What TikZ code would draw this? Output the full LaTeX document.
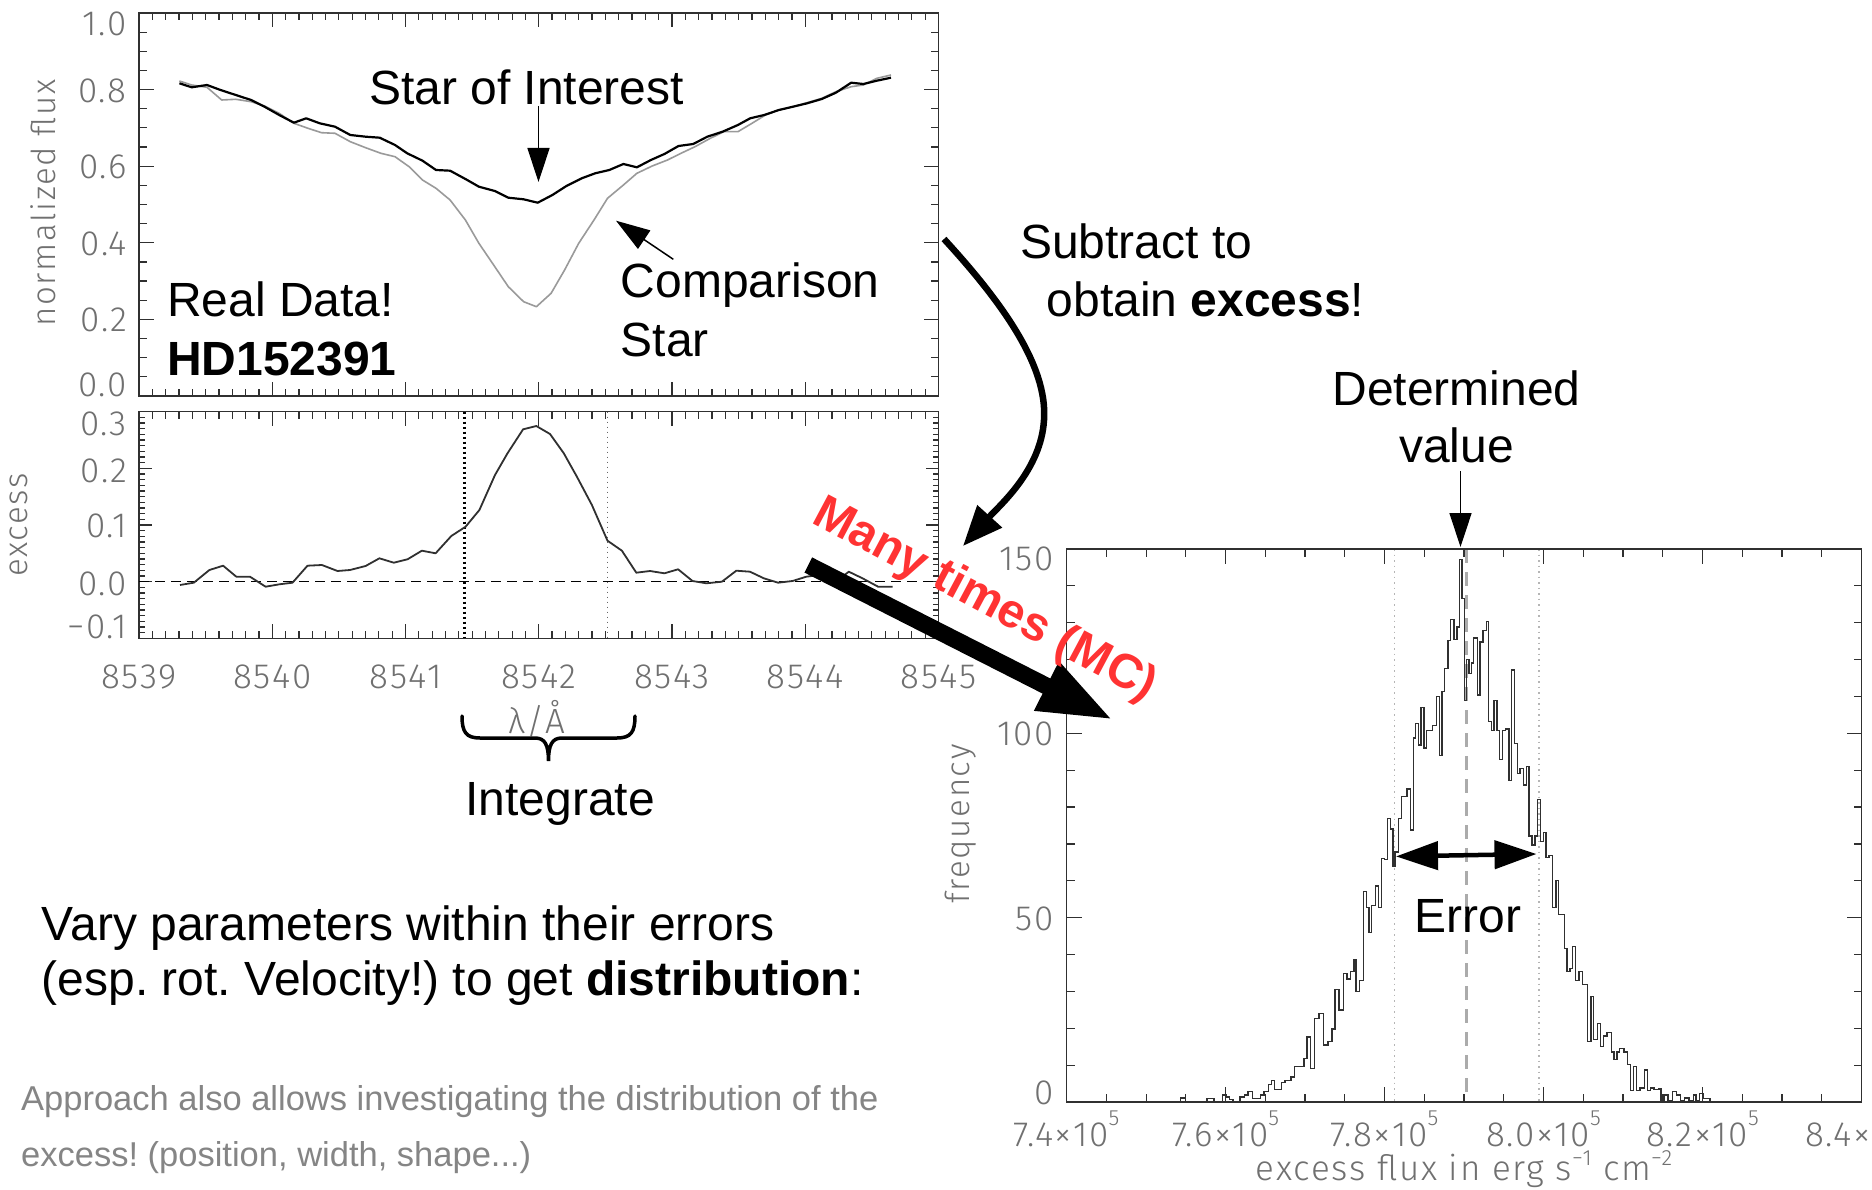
\documentclass[tikz,border=0pt]{standalone}
\usepackage{fontspec}
\setmainfont{Liberation Sans}
\newfontfamily\axisfont{Fira Sans Light}[LetterSpace=5]
\usetikzlibrary{arrows.meta}

\definecolor{axgray}{HTML}{707070}
\definecolor{axline}{HTML}{303030}
\definecolor{compgray}{HTML}{9A9A9A}
\definecolor{mcred}{HTML}{FF3333}
\definecolor{notegray}{HTML}{858585}
\definecolor{meangray}{HTML}{ABABAB}
\definecolor{sigmagray}{HTML}{B5B5B5}

\newcommand\labelsize{\fontsize{48}{56}\selectfont}
\newcommand\notesize{\fontsize{34.5}{40}\selectfont}
\newcommand\ticksize{\axisfont\fontsize{35}{35}\selectfont}
\newcommand\titlesize{\axisfont\fontsize{33}{33}\selectfont}
\newcommand\expo[1]{\raisebox{0.62em}{\fontsize{22}{22}\selectfont #1}}
\newcommand\unitexpo[1]{\raisebox{0.42em}{\fontsize{22}{22}\selectfont #1}}

\begin{document}
\frenchspacing
\begin{tikzpicture}[x=1pt,y=-1pt,
  lbl/.style={font=\labelsize, inner sep=0pt},
  note/.style={font=\notesize, text=notegray, inner sep=0pt},
  ticklbl/.style={font=\ticksize, text=axgray, inner sep=0pt},
  axtitle/.style={font=\titlesize, text=axgray, inner sep=0pt},
  plotframe/.style={draw=axline, line width=1.5pt},
  tk/.style={draw=axline, line width=1.2pt},
  pointer/.style={line width=1.5pt, -{Triangle[length=34pt,width=22pt]}},
]
\useasboundingbox[fill=white] (0,0) rectangle (1872,1190);

% ===== normalized flux panel =====
\draw[plotframe] (139,13) rectangle (938.5,396);
\foreach \i in {1,...,19} {
  \draw[tk] (139,{396-\i*19.15}) -- ++(8,0);
  \draw[tk] (938.5,{396-\i*19.15}) -- ++(-8,0);
}
\foreach \i in {1,...,4} {
  \draw[tk] (139,{396-\i*76.6}) -- ++(15,0);
  \draw[tk] (938.5,{396-\i*76.6}) -- ++(-15,0);
}
\foreach \i in {1,...,59} {
  \draw[tk] ({139+\i*13.325},396) -- ++(0,-7);
  \draw[tk] ({139+\i*13.325},13) -- ++(0,7);
}
\foreach \i in {1,...,5} {
  \draw[tk] ({139+\i*133.25},396) -- ++(0,-14);
  \draw[tk] ({139+\i*133.25},13) -- ++(0,14);
}
\foreach \v/\y [count=\k] in {1.0/24, 0.8/90.7, 0.6/167, 0.4/243.6, 0.2/320, 0.0/384.5}
  \node[ticklbl, anchor=east] (fl\k) at (127,\y) {\v};
\node[axtitle, rotate=90] (fluxlabel) at (43,203) {normalized flux};

% comparison star
\draw[compgray, line width=1.6pt, line join=round] plot coordinates {
(179.4,81) (191.7,85) (207.0,87.3) (221.7,100) (235.8,99.3) (251.1,101.7) (264.5,106)
(279.2,113.3) (293.9,123.3) (308.0,128.3) (321.5,132.7) (335.0,133.3) (350.3,141.7)
(365.6,147.7) (380.9,153.3) (395.0,156.7) (409.1,166.7) (422.5,180) (436.0,188.3)
(450.1,200) (465.4,220) (478.9,243.3) (494.8,266.7) (508.3,286.7) (523.6,301.7)
(536.4,306.7) (551.1,293.3) (564.6,270) (578.7,243.3) (594.0,220) (607.5,198.3)
(623.4,185) (636.9,173.3) (652.2,166) (667.5,160) (681.0,153.3) (695.0,146.7)
(710.3,138.3) (723.8,131.7) (737.9,131.7) (752.0,123.3) (765.5,115) (778.9,110)
(793.0,106.7) (807.1,102.7) (821.8,98.3) (835.9,91.7) (851.2,86.7) (863.4,85)
(876.9,78.3) (891.0,75)};
% star of interest
\draw[black, line width=2.2pt, line join=round] plot coordinates {
(179.4,83.3) (191.7,87.3) (207.0,85) (220.5,90) (235.8,95) (251.1,100) (264.5,106.7)
(279.2,115) (293.9,122.7) (306.2,118.3) (319.7,123.3) (335.0,126.7) (350.3,135)
(365.6,136.7) (379.7,137.7) (395.0,145) (407.2,153.3) (422.5,160.7) (436.0,170)
(450.1,170.7) (465.4,179) (478.9,186.7) (494.8,191) (508.3,197.7) (523.6,199.3)
(537.7,202.7) (552.4,195) (566.4,186) (581.7,178.3) (595.2,173.3) (609.3,170)
(623.4,164) (636.9,167.3) (650.9,160) (664.4,154) (678.5,146) (693.2,144)
(707.3,136.7) (722.6,131.7) (737.9,125) (750.2,118.3) (764.2,115) (778.9,110)
(793.0,106.7) (807.1,103.3) (821.8,99) (835.9,92.7) (851.2,82.7) (863.4,84)
(876.9,80.7) (891.0,77.7)};

\node[lbl, anchor=base] (soi) at (526.6,104.3) {Star of Interest};
\coordinate (soiTip) at (538.5,182);
\draw[pointer] (538.5,106) coordinate (soiTail) -- (soiTip);
\node[lbl, anchor=base west] (comp1) at (620.7,297.3) {Comparison};
\node[lbl, anchor=base west] (comp2) at (620.7,356.7) {Star};
\coordinate (compTail) at (673.3,259.3);
\coordinate (compTip) at (616,220.7);
\draw[pointer] (compTail) -- (compTip);
\node[lbl, anchor=base west] (real) at (167,316.7) {Real Data!};
\node[lbl, anchor=base west, font=\labelsize\bfseries] (hd) at (167,376) {HD152391};

% ===== excess panel =====
\draw[plotframe] (139,411.7) rectangle (938.5,638.4);
\foreach \i in {1,...,39} {
  \draw[tk] (139,{638.4-\i*5.667}) -- ++(6,0);
  \draw[tk] (938.5,{638.4-\i*5.667}) -- ++(-6,0);
}
\foreach \i in {1,2,3} {
  \draw[tk] (139,{638.4-\i*56.67}) -- ++(13,0);
  \draw[tk] (938.5,{638.4-\i*56.67}) -- ++(-13,0);
}
\foreach \i in {1,...,59} {
  \draw[tk] ({139+\i*13.325},638.4) -- ++(0,-7);
  \draw[tk] ({139+\i*13.325},411.7) -- ++(0,7);
}
\foreach \i in {1,...,5} {
  \draw[tk] ({139+\i*133.25},638.4) -- ++(0,-14);
  \draw[tk] ({139+\i*133.25},411.7) -- ++(0,14);
}
\foreach \v/\y [count=\k] in {0.3/424, 0.2/470.4, 0.1/525.4, 0.0/584, {−0.1}/627}
  \node[ticklbl, anchor=east] (ex\k) at (127,\y) {\v};
\foreach \v [count=\k from 0] in {8539,8540,8541,8542,8543,8544,8545}
  \node[ticklbl] (wl\k) at ({139+\k*133.25},677) {\v};
\node[axtitle, rotate=90] (exlabel) at (19,525) {excess};

\draw[black, line width=1.5pt, dash pattern=on 10pt off 6pt] (139,581.7) -- (938.5,581.7);
\draw[black, line width=2.2pt, dash pattern=on 2pt off 3pt] (464.4,411.7) -- (464.4,638.4);
\draw[black!60, line width=1.2pt, dash pattern=on 1.5pt off 3.5pt] (607.5,411.7) -- (607.5,638.4);
\draw[axline, line width=1.8pt, line join=round] plot coordinates {
(180,585) (193.8,582.7) (209.4,570) (223.1,565.7) (236.3,576.7) (250,576.7)
(265.6,586.7) (279.4,584.3) (292.5,582.7) (307.5,565.7) (321.9,565) (337.5,571)
(350,570) (365.6,566) (379.4,558.3) (393.8,562.7) (407.5,559.3) (421.9,550.7)
(435.6,553.3) (451.3,536) (465.6,526.7) (479.4,510) (495,475) (507.5,453.3)
(523.1,429.3) (536.3,426) (550,434) (563.8,453.3) (576.9,476.7) (591.9,505)
(607.5,540.7) (621.9,550.7) (636.3,572.7) (650,571) (664.4,573.3) (678.1,569.3)
(692.5,581) (706.3,583.3) (721.9,581.7) (736.3,570.7) (750,571.7) (763.8,578.3)
(778.1,582.7) (792.5,581) (806.3,576.7) (820,575) (834.4,582.7) (848.8,571.7)
(862.5,578.3) (878.1,586.7) (892.5,586.7)};

\node[ticklbl] (lam) at (537,719) {λ/Å};
\draw[line width=3.5pt, line cap=round] (462,716) .. controls (462,732) and (466,738) .. (480,738)
  -- (535,738) .. controls (545,738) and (548.5,745) .. (548.5,761)
  .. controls (548.5,745) and (552,738) .. (562,738) -- (617,738)
  .. controls (631,738) and (635,732) .. (635,716);
\node[lbl, anchor=base] (integ) at (560,815) {Integrate};

% ===== subtraction arrow =====
\node[lbl, anchor=base west] (sub1) at (1020,259) {Subtract to};
\node[lbl, anchor=base west] (sub2) at (1046.5,316.4) {obtain \textbf{excess}!};
\coordinate (subStart) at (944,239);
\coordinate (subEnd) at (963,546);
\draw[line width=6.5pt, -{Triangle[length=40pt,width=32pt]}]
  (subStart) .. controls (1000,300) and (1048,365) .. (1044,420)
  .. controls (1041,470) and (1000,505) .. (subEnd);

% ===== histogram panel =====
\draw[meangray, line width=2.5pt, dash pattern=on 14pt off 9pt] (1466.4,549) -- (1466.4,1102);
\draw[sigmagray, line width=1.2pt, dash pattern=on 1.5pt off 4pt] (1394.6,549) -- (1394.6,1102);
\draw[sigmagray, line width=1.2pt, dash pattern=on 1.5pt off 4pt] (1539,549) -- (1539,1102);
\begin{scope}[shift={(1170,545)}, x=0.35075pt, y=-0.35714pt]
\draw[axline, line width=1.4pt] (30,1560) \foreach \x/\h in {
45/1548, 105/1560, 125/1550, 150/1560, 160/1540, 170/1545, 180/1552, 200/1560,
212/1545, 222/1540, 235/1530, 258/1550, 268/1540, 280/1530, 290/1510, 298/1500,
318/1525, 328/1505, 345/1500, 355/1490, 370/1460, 382/1460, 390/1438, 400/1378,
412/1465, 425/1325, 437/1312, 450/1400, 462/1390, 470/1355, 482/1245, 495/1302,
505/1200, 515/1215, 525/1195, 530/1160, 540/1250, 552/1220, 560/970, 567/1015,
575/1085, 585/1010, 595/955, 603/1015, 612/878, 620/880, 628/765, 636/795,
642/900, 652/860, 660/765, 676/705, 686/683, 694/798, 700/540, 708/500,
716/560, 724/455, 732/568, 748/520, 760/505, 768/425, 775/590, 782/410,
792/345, 800/268, 810/208, 818/265, 826/230, 832/40, 840/150, 846/435,
852/320, 860/360, 866/330, 876/260, 884/420, 892/272, 902/240, 908/215,
916/495, 924/520, 932/435, 940/520, 948/600, 956/520, 966/515, 974/660,
982/350, 990/555, 998/640, 1008/625, 1016/672, 1024/620, 1032/815, 1040/840,
1048/815, 1056/712, 1064/830, 1072/805, 1080/875, 1090/870, 1100/1015, 1108/940,
1116/1035, 1124/1035, 1132/1130, 1140/1195, 1148/1185, 1156/1125, 1166/1220, 1176/1195,
1190/1230, 1200/1390, 1208/1265, 1218/1385, 1228/1340, 1236/1405, 1246/1375, 1258/1365,
1266/1420, 1274/1440, 1282/1420, 1294/1410, 1304/1420, 1312/1455, 1322/1528, 1330/1460,
1340/1528, 1352/1520, 1362/1470, 1370/1528, 1380/1520, 1392/1525, 1400/1523, 1408/1557,
1420/1540, 1432/1557, 1444/1530, 1456/1540, 1466/1557, 1480/1548, 1492/1557, 1500/1540,
1510/1557, 1520/1535, 1540/1550, 1550/1560} { |- (\x,\h) };
\end{scope}

\draw[plotframe] (1066.6,549) rectangle (1861.5,1102);
\foreach \i in {1,...,14} {
  \draw[tk] (1066.6,{1102-\i*36.87}) -- ++(8,0);
  \draw[tk] (1861.5,{1102-\i*36.87}) -- ++(-8,0);
}
\foreach \i in {1,2} {
  \draw[tk] (1066.6,{1102-\i*184.35}) -- ++(15,0);
  \draw[tk] (1861.5,{1102-\i*184.35}) -- ++(-15,0);
}
\foreach \i in {1,...,19} {
  \draw[tk] ({1066.6+\i*39.745},1102) -- ++(0,-8);
  \draw[tk] ({1066.6+\i*39.745},549) -- ++(0,8);
}
\foreach \i in {1,...,4} {
  \draw[tk] ({1066.6+\i*158.98},1102) -- ++(0,-15);
  \draw[tk] ({1066.6+\i*158.98},549) -- ++(0,15);
}
\foreach \v/\y [count=\k] in {150/558.8, 100/734, 50/919, 0/1092.5}
  \node[ticklbl, anchor=east] (fq\k) at (1054,\y) {\v};
\foreach \t [count=\k from 0] in {7.4,7.6,7.8,8.0,8.2,8.4}
  \node[ticklbl] (hx\k) at ({1066.6+\k*158.98},1129) {\t×10\expo{5}};
\node[axtitle, rotate=90] (freqlabel) at (961,824) {frequency};
\node[ticklbl, anchor=base] (fluxunit) at (1464,1180) {excess flux in erg s\unitexpo{−1} cm\unitexpo{−2}};

\node[lbl, anchor=base] (det1) at (1456.6,406) {Determined};
\node[lbl, anchor=base] (det2) at (1456.6,462) {value};
\coordinate (detTail) at (1460.5,471);
\coordinate (detTip) at (1460.5,547);
\draw[pointer] (detTail) -- (detTip);

\coordinate (errL) at (1396,856.4);
\coordinate (errR) at (1536.5,854);
\draw[line width=4.5pt, {Triangle[length=42pt,width=28pt]}-{Triangle[length=42pt,width=28pt]}] (errL) -- (errR);
\node[lbl, anchor=base] (err) at (1467.7,932) {Error};

% ===== Monte Carlo arrow =====
\coordinate (mcStart) at (808.3,565);
\coordinate (mcTip) at (1113.3,720);
\draw[line width=17pt, -{Triangle[length=75pt,width=50pt]}] (mcStart) -- (mcTip);
\node[font=\bfseries\fontsize{48}{48}\selectfont, text=mcred, rotate=-28, anchor=base west, inner sep=0pt] (mc) at (810,522) {Many times (MC)};

% ===== notes =====
\node[lbl, anchor=base west] (vary1) at (41.7,940) {Vary parameters within their errors};
\node[lbl, anchor=base west] (vary2) at (41.7,995) {(esp. rot. Velocity!) to get \textbf{distribution}:};
\node[note, anchor=base west] (appr1) at (21,1110) {Approach also allows investigating the distribution of the};
\node[note, anchor=base west] (appr2) at (21,1166) {excess! (position, width, shape...)};
\end{tikzpicture}
\end{document}
